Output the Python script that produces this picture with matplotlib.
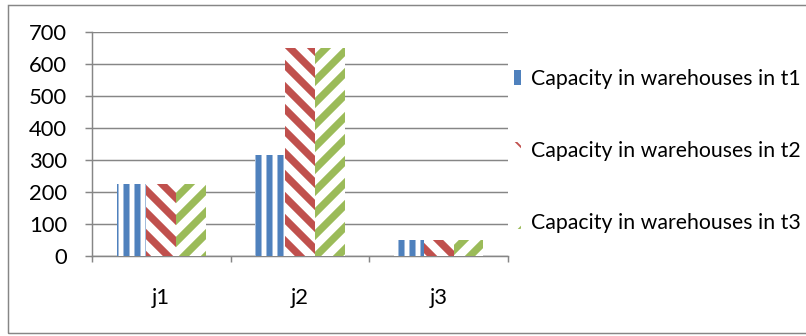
import numpy as np
import matplotlib
matplotlib.use("Agg")
import matplotlib.pyplot as plt
from matplotlib.patches import Rectangle

# Warehouse capacity per location and period
warehouses = ["j1", "j2", "j3"]
cap_t1 = [225, 315, 50]
cap_t2 = [225, 650, 50]
cap_t3 = [225, 650, 50]
series_labels = [
    "Capacity in warehouses in t1",
    "Capacity in warehouses in t2",
    "Capacity in warehouses in t3",
]
y_ticks = [0, 100, 200, 300, 400, 500, 600, 700]

DPI = 132
W, H = 806, 336
GRAY = "#868686"

plt.rcParams["font.family"] = ["Lato", "DejaVu Sans"]
plt.rcParams["font.size"] = 12

fig = plt.figure(figsize=(W / DPI, H / DPI), dpi=DPI)
ax = fig.add_axes([92 / W, (H - 255.5) / H, 416 / W, 223.8 / H])

x = np.arange(len(warehouses))
bw = 0.215
styles = [
    (cap_t1, "#4F81BD", "||", 3.3),
    (cap_t2, "#C0504D", "\\\\", 4.0),
    (cap_t3, "#9BBB59", "//", 4.0),
]


def set_hatch_lw(patch, lw):
    if hasattr(patch, "set_hatch_linewidth"):
        patch.set_hatch_linewidth(lw)


for i, (vals, col, hatch, hlw) in enumerate(styles):
    with plt.rc_context({"hatch.linewidth": hlw}):
        bars = ax.bar(x + (i - 1) * bw, vals, width=bw, facecolor="white",
                      edgecolor=col, linewidth=0, hatch=hatch, zorder=3)
    for p in bars:
        set_hatch_lw(p, hlw)

ax.set_xlim(-0.5, 2.5)
ax.set_ylim(0, 700)
ax.set_yticks(y_ticks)
ax.set_xticks(x)
ax.set_xticklabels(warehouses)
ax.set_xticks([-0.5, 0.5, 1.5, 2.5], minor=True)
ax.yaxis.grid(True, color=GRAY, linewidth=0.8, zorder=0)
ax.set_axisbelow(True)

for side in ("top", "right"):
    ax.spines[side].set_visible(False)
for side in ("left", "bottom"):
    ax.spines[side].set_color(GRAY)
    ax.spines[side].set_linewidth(0.8)

ax.tick_params(axis="y", length=3.8, width=0.8, color=GRAY, pad=9.8)
ax.tick_params(axis="x", which="major", length=0, pad=17.5)
ax.tick_params(axis="x", which="minor", length=3.3, width=0.8, color=GRAY)

# Legend keys: narrow blue block, small hatched squares for t2/t3
handles = [Rectangle((0, 0), 1, 1, facecolor=styles[0][1], linewidth=0)]
for vals, col, hatch, hlw in styles[1:]:
    with plt.rc_context({"hatch.linewidth": 3.0}):
        h = Rectangle((0, 0), 1, 1, facecolor="white", edgecolor=col,
                      linewidth=0, hatch=hatch)
    set_hatch_lw(h, 3.0)
    handles.append(h)

leg = fig.legend(handles=handles, labels=series_labels, loc="center left",
                 bbox_to_anchor=(514 / W, (H - 151) / H), frameon=False,
                 fontsize=11.6, handlelength=0.35, handleheight=0.75,
                 handletextpad=0.45, labelspacing=2.45, borderpad=0,
                 borderaxespad=0)

# Chart frame
fig.patches.append(Rectangle((8 / W, 3 / H), 1.2, 1 - 8 / H, transform=fig.transFigure,
                             fill=False, edgecolor=GRAY, linewidth=0.8, clip_on=False))

fig.savefig("out.png", dpi=DPI)
